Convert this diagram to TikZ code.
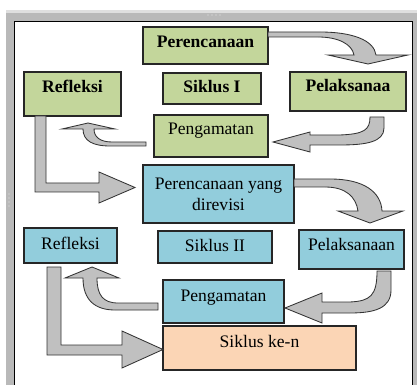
\documentclass[tikz,border=0pt]{standalone}
\usepackage{fontspec}
\setmainfont{Liberation Serif}
\usetikzlibrary{positioning}
\definecolor{greenfill}{HTML}{C3D69B}
\definecolor{bluefill}{HTML}{92CDDC}
\definecolor{peachfill}{HTML}{FBD5B5}
\definecolor{arrowgrey}{HTML}{C0C0C0}

\begin{document}
\begin{tikzpicture}[x=0.025cm, y=-0.025cm]

\tikzset{
box/.style = {rectangle, draw = black!85, line width = 0.8pt, inner sep = 0pt,
	font = \fontsize{12.5}{15}\selectfont, text height = 9pt, text depth = 3pt},
greenbox/.style = {box, fill = greenfill},
bluebox/.style = {box, fill = bluefill},
peachbox/.style = {box, fill = peachfill},
lift/.style = {text depth = #1},
blockarrow/.style = {draw = black!80, line width = 0.6pt, fill = arrowgrey, line join = miter},
	}

\useasboundingbox (0,0) rectangle (418,385);

%% Frame
\fill[gray!25] (6,10) rectangle (417,385);
\fill[gray!55] (6,13) rectangle (417,385);
\fill[white] (14,21) rectangle (412,385);
\draw[black, line width = 0.6pt] (14.5,385) -- (14.5,21) -- (412.5,21) -- (412.5,385);
\foreach \i in {0,...,3} {
	\fill[gray!20] (208+4*\i,15) circle (0.7);
	\fill[gray!20] (9,194+4*\i) circle (0.7);
}

%% Siklus I
\node at (205.5,45.5) [greenbox, minimum width = 3.125cm, minimum height = 0.925cm, lift = 6.5pt] (per1) {\bfseries Perencanaan};
\node at (72.5,94) [greenbox, minimum width = 2.425cm, minimum height = 1.1cm, lift = 11.5pt] (ref1) {\bfseries Refleksi};
\node at (212,88.5) [greenbox, minimum width = 2.45cm, minimum height = 0.775cm] (sik1) {\bfseries Siklus I};
\node at (348,91.5) [greenbox, minimum width = 2.9cm, minimum height = 0.975cm, lift = 9.4pt] (pel1) {\bfseries Pelaksanaa};
\node at (211,136) [greenbox, minimum width = 2.85cm, minimum height = 1.05cm, lift = 11.5pt] (pen1) {Pengamatan};

%% Siklus II
\node at (218.5,194) [bluebox, minimum width = 3.775cm, minimum height = 1.45cm, align = center,
	text height = {}, text depth = {}] (per2) {Perencanaan yang\\direvisi};
\node at (70.5,245.5) [bluebox, minimum width = 2.325cm, minimum height = 0.875cm] (ref2) {Refleksi};
\node at (215,247) [bluebox, minimum width = 2.85cm, minimum height = 0.8cm] (sik2) {Siklus II};
\node at (351.5,249.5) [bluebox, minimum width = 2.625cm, minimum height = 0.975cm, lift = 8pt] (pel2) {Pelaksanaan};
\node at (223.5,301.5) [bluebox, minimum width = 3.025cm, minimum height = 1.075cm, lift = 9.4pt] (pen2) {Pengamatan};

% Siklus ke-n
\node at (259.5,348) [peachbox, minimum width = 4.825cm, minimum height = 1.1cm, lift = 10pt] (ken) {Siklus ke-n};

%% Block arrows
% Siklus I
\draw[blockarrow] (268,32) -- (320,32) .. controls (352,32) and (374,40) .. (376,55) -- (408,55)
	-- (368,64) -- (328,55) -- (354,55) .. controls (352,44) and (338,37) .. (318,37) -- (268,37) -- cycle;
\draw[blockarrow] (310,135) -- (340,135) .. controls (364,134) and (370,130) .. (370,117) -- (384,117)
	-- (384,128) .. controls (384,142) and (366,145) .. (340,145) -- (310,145) -- (310,152)
	-- (273,142) -- (310,132) -- cycle;
\draw[blockarrow] (146,142) -- (112,142) .. controls (100,142) and (94,137) .. (94,129) -- (115,129)
	-- (88,123) -- (62,129) -- (83,129) .. controls (83,141) and (93,146) .. (110,146) -- (146,146) -- cycle;
\draw[blockarrow] (35,116) -- (46,116) -- (46,183) -- (99,183) -- (99,172) -- (135,187.5)
	-- (99,203) -- (99,192) -- (35,192) -- cycle;

% Siklus II
\draw[blockarrow] (294,179) -- (330,179) .. controls (364,179) and (381,192) .. (382,211) -- (403,211)
	-- (370,223) -- (338,211) -- (358,211) .. controls (356,197) and (346,187) .. (325,187) -- (294,187) -- cycle;
\draw[blockarrow] (322,302) -- (350,302) .. controls (370,301) and (377,296) .. (377,271) -- (391,271)
	-- (391,290) .. controls (391,308) and (375,313) .. (350,313) -- (322,313) -- (322,323)
	-- (285,308) -- (322,293) -- cycle;
\draw[blockarrow] (158,303) -- (118,303) .. controls (103,303) and (97,295) .. (97,278) -- (119,278)
	-- (92,267) -- (65,278) -- (83,278) .. controls (83,300) and (95,310) .. (115,310) -- (158,310) -- cycle;
\draw[blockarrow] (47,267) -- (61,267) -- (61,345) -- (122,345) -- (122,331) -- (163,349.5)
	-- (122,368) -- (122,355) -- (47,355) -- cycle;

\end{tikzpicture}
\end{document}
